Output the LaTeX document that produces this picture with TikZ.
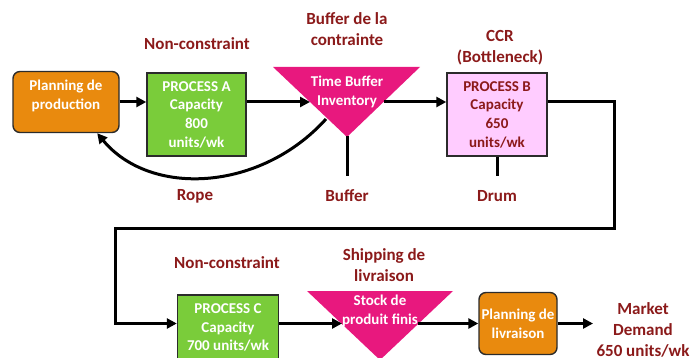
\documentclass[tikz,border=0pt]{standalone}
\usepackage{fontspec}
\setmainfont{Carlito}
\usetikzlibrary{arrows.meta}
\definecolor{rust}{HTML}{8B1A1A}
\definecolor{amber}{HTML}{E98A0E}
\definecolor{lime}{HTML}{7ACC3A}
\definecolor{fuchsia}{HTML}{E8187E}
\definecolor{lilac}{HTML}{FFCCFF}
\definecolor{ink}{HTML}{2B2B2B}

\begin{document}
\begin{tikzpicture}[x=1pt,y=-1pt,
  every node/.style={align=center},
  lbl/.style={text=rust,font=\fontsize{17}{21}\selectfont\bfseries},
  box/.style={draw=ink,line width=1.4pt,fill=lime,text=white,
              font=\fontsize{15}{18.7}\selectfont\bfseries,
              minimum width=99pt,minimum height=83pt,inner sep=1pt},
  plan/.style={box,fill=amber,rounded corners=7pt},
  tri/.style={fill=fuchsia},
  tritext/.style={text=white,font=\fontsize{15}{18.7}\selectfont\bfseries,inner sep=0pt},
  arr/.style={-{Triangle[length=10pt,width=10pt]},line width=3pt},
  stub/.style={line width=3pt}
]
\useasboundingbox (0,0) rectangle (698,358);

% upper line: planning, process A, time buffer, bottleneck
\node[plan,minimum width=106pt,minimum height=61pt,text depth=15pt] (prodplan) at (66,102) {Planning de\\production};
\node[box] (procA) at (196.5,114.5) {PROCESS A\\Capacity\\800\\units/wk};
\fill[tri] (273,67) -- (420,67) -- (347,137) -- cycle;
\node[tritext] (tbuf) at (347,92) {Time Buffer\\Inventory};
\coordinate (tbufin) at (310,102);
\coordinate (tbufout) at (384,102);
\coordinate (tbufapex) at (347,136);
\coordinate (ropestart) at (326,119);
\node[box,fill=lilac,text=rust,minimum width=100pt] (procB) at (497,114.5) {PROCESS B\\Capacity\\650\\units/wk};

\node[lbl] (ncA) at (197,44) {Non-constraint};
\node[lbl] (bufcon) at (347,29) {Buffer de la\\contrainte};
\node[lbl] (ccr) at (500,48) {CCR\\(Bottleneck)};
\node[lbl] (ropelbl) at (195,196) {Rope};
\node[lbl] (buflbl) at (347,196) {Buffer};
\node[lbl] (drumlbl) at (497,196) {Drum};
\coordinate (bufend) at (347,176);

% lower line: process C, finished stock, delivery
\node[lbl] (ncC) at (227,263) {Non-constraint};
\node[lbl] (ship) at (384,265) {Shipping de\\livraison};
\node[box,minimum width=101pt,minimum height=65pt] (procC) at (228,327.5) {PROCESS C\\Capacity\\700 units/wk};
\fill[tri] (307,291) -- (453,291) -- (380,360) -- cycle;
\node[tritext] (stock) at (380,311) {Stock de\\produit finis};
\coordinate (stockin) at (342,323.5);
\coordinate (stockout) at (418,323.5);
\node[plan,minimum width=78pt,minimum height=62pt] (livr) at (518,323.5) {Planning de\\livraison};
\node[lbl] (market) at (643,330) {Market\\Demand\\650 units/wk};
\coordinate (bend) at (614,228);
\coordinate (bendl) at (115,228);

\draw[arr] (prodplan.east) -- (prodplan.east -| procA.west);
\draw[arr] (procA.east |- tbufin) -- (tbufin);
\draw[arr] (tbufout) -- (tbufout -| procB.west);
\draw[stub] (tbufapex) -- (bufend);
\draw[stub] (procB.south) -- (procB.south |- bufend);
\draw[arr] (ropestart) .. controls (260,192) and (150,197) .. (prodplan.-45);
\draw[arr] (procB.east |- tbufout) -| (bend) -- (bendl) |- ([yshift=4pt]procC.west);
\draw[arr] ([yshift=4pt]procC.east) -- (stockin);
\draw[arr] (stockout) -- (stockout -| livr.west);
\draw[arr] (livr.east) -- (livr.east -| market.west);
\end{tikzpicture}
\end{document}
